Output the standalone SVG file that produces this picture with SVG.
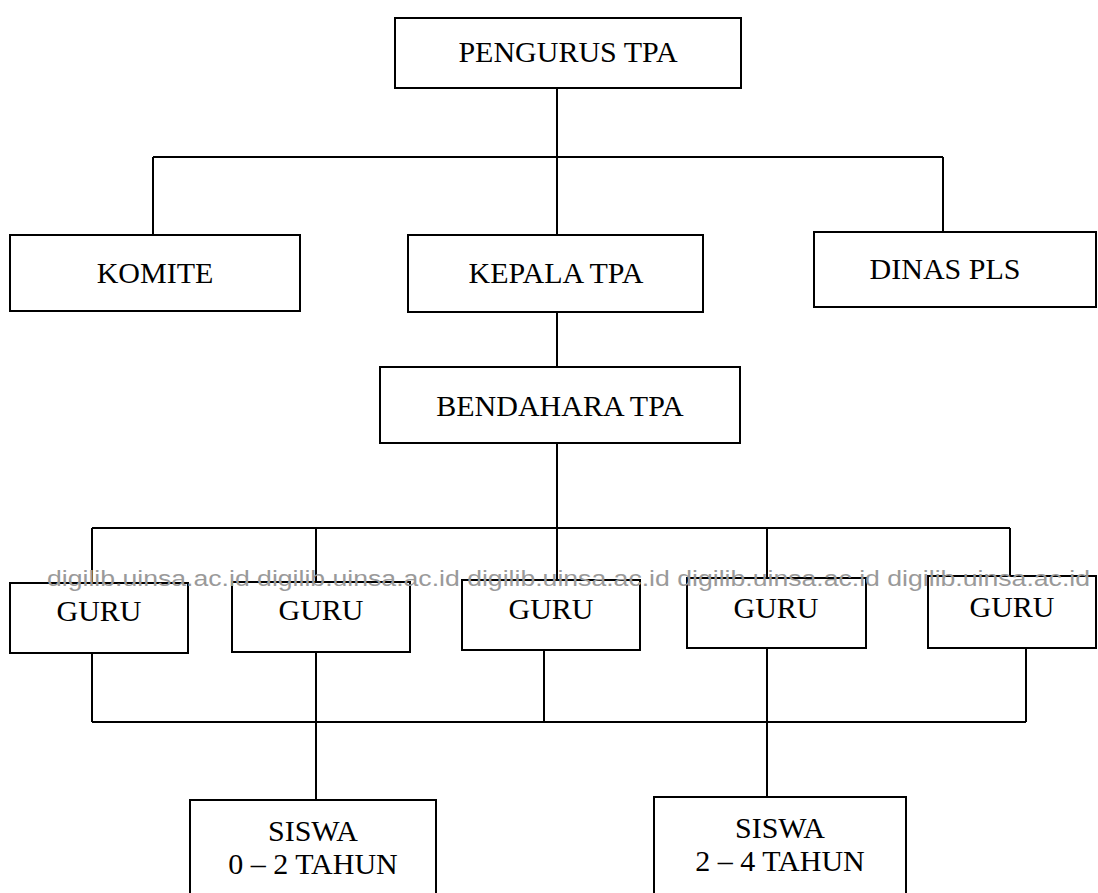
<svg xmlns="http://www.w3.org/2000/svg" width="1098" height="893" viewBox="0 0 1098 893">
<style>
.box{fill:#fff;stroke:#000;stroke-width:2}
.t{font-family:"Liberation Serif","Times New Roman",serif;font-size:30px;fill:#000;text-anchor:middle}
.c{fill:none;stroke:#000;stroke-width:2}
.wm{font-family:"Liberation Sans",Arial,sans-serif;font-size:22px;fill:#9a9a9a}
</style>
<rect width="1098" height="893" fill="#fff"/>
<g id="connectors">
<path class="c" d="M557 88V157M153 157H943M153 157V235M557 157V235M943 157V232"/>
<path class="c" d="M557 312V367M557 443V528M92 528H1010M92 528V583M316 528V582M557 528V580M767 528V578M1010 528V576"/>
<path class="c" d="M92 653V722M316 652V722M544 650V722M767 648V722M1026 648V722M92 722H1026M316 722V800M767 722V797"/>
</g>
<g id="pengurus"><rect class="box" x="395" y="18" width="346" height="70"/><text class="t" x="568" y="62">PENGURUS TPA</text></g>
<g id="komite"><rect class="box" x="10" y="235" width="290" height="76"/><text class="t" x="155" y="283">KOMITE</text></g>
<g id="kepala"><rect class="box" x="408" y="235" width="295" height="77"/><text class="t" x="556" y="283">KEPALA TPA</text></g>
<g id="dinas"><rect class="box" x="814" y="232" width="282" height="75"/><text class="t" x="945" y="279">DINAS PLS</text></g>
<g id="bendahara"><rect class="box" x="380" y="367" width="360" height="76"/><text class="t" x="560" y="416">BENDAHARA TPA</text></g>
<g id="guru1"><rect class="box" x="10" y="583" width="178" height="70"/><text class="t" x="99" y="621">GURU</text></g>
<g id="guru2"><rect class="box" x="232" y="582" width="178" height="70"/><text class="t" x="321" y="620">GURU</text></g>
<g id="guru3"><rect class="box" x="462" y="580" width="178" height="70"/><text class="t" x="551" y="619">GURU</text></g>
<g id="guru4"><rect class="box" x="687" y="578" width="179" height="70"/><text class="t" x="776" y="618">GURU</text></g>
<g id="guru5"><rect class="box" x="928" y="576" width="168" height="72"/><text class="t" x="1012" y="617">GURU</text></g>
<g id="siswa1"><rect class="box" x="190" y="800" width="246" height="100"/><text class="t" x="313" y="841">SISWA</text><text class="t" x="313" y="874">0 – 2 TAHUN</text></g>
<g id="siswa2"><rect class="box" x="654" y="797" width="252" height="103"/><text class="t" x="780" y="838">SISWA</text><text class="t" x="780" y="871">2 – 4 TAHUN</text></g>
<text class="wm" x="47" y="586" textLength="1043" lengthAdjust="spacingAndGlyphs">digilib.uinsa.ac.id digilib.uinsa.ac.id digilib.uinsa.ac.id digilib.uinsa.ac.id digilib.uinsa.ac.id</text>
</svg>
